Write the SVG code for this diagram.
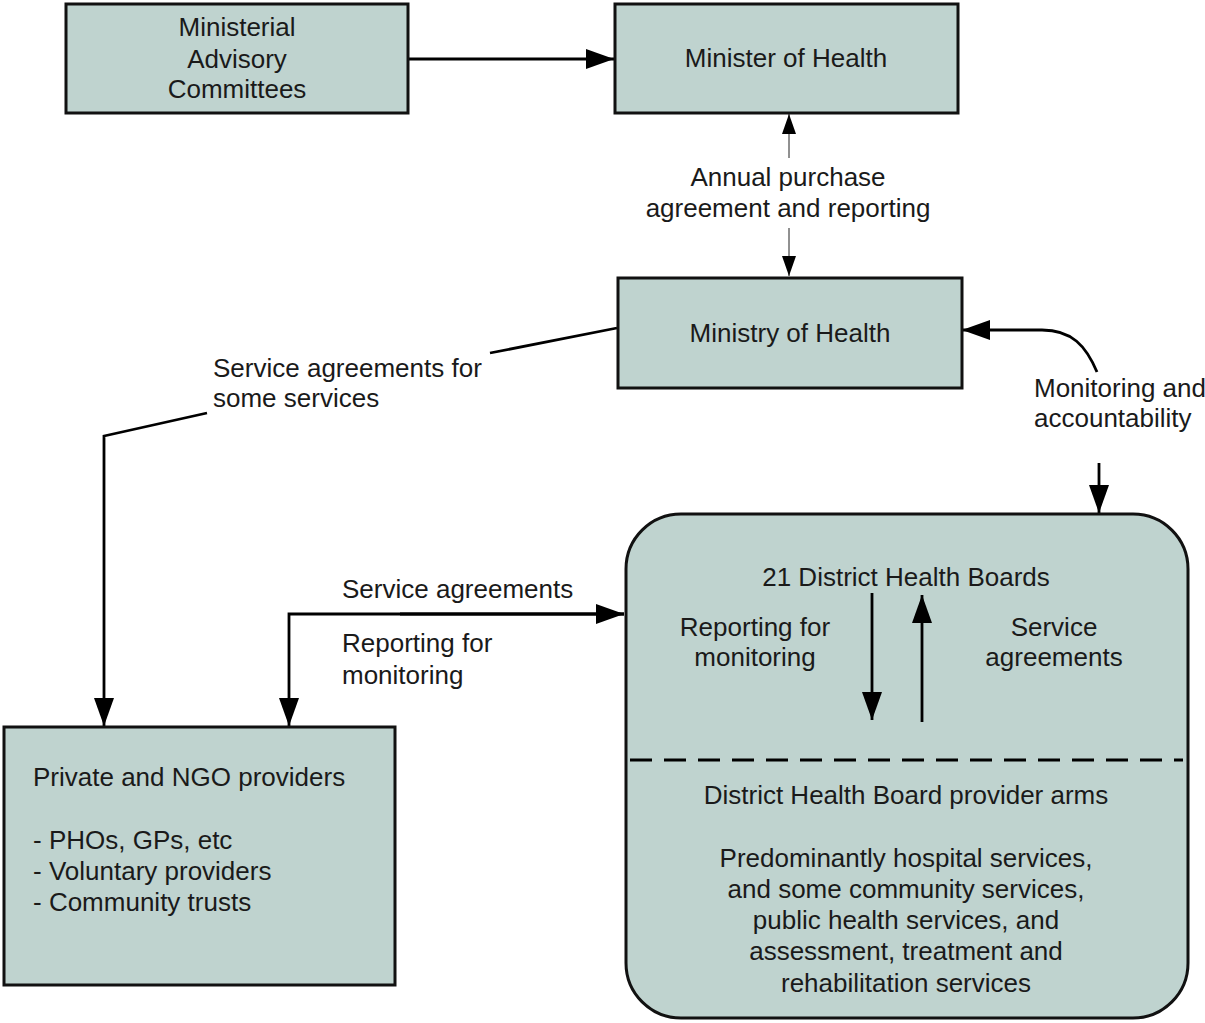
<svg xmlns="http://www.w3.org/2000/svg" width="1205" height="1023" viewBox="0 0 1205 1023">
<style>
.box{fill:#bfd3cf;stroke:#111;stroke-width:3}
.t{font-family:"Liberation Sans",Arial,sans-serif;font-size:26px;fill:#1a1a1a}
.c{text-anchor:middle}
.ln{fill:none;stroke:#000;stroke-width:2.8}
.thin{fill:none;stroke:#222;stroke-width:1}
</style>
<defs>
<marker id="ah" markerUnits="userSpaceOnUse" markerWidth="28" markerHeight="20" refX="28" refY="10" orient="auto"><path d="M0,0 L28,10 L0,20 z" fill="#000"/></marker>
<marker id="ahs" markerUnits="userSpaceOnUse" markerWidth="20" markerHeight="14" refX="20" refY="7" orient="auto"><path d="M0,0 L20,7 L0,14 z" fill="#000"/></marker>
</defs>
<rect width="1205" height="1023" fill="#fff"/>
<g id="connectors">
<path class="ln" d="M408,59 L614,59" marker-end="url(#ah)"/>
<path class="thin" d="M789,158 L789,114" marker-end="url(#ahs)"/>
<path class="thin" d="M789,228 L789,276" marker-end="url(#ahs)"/>
<path class="ln" d="M617,328 L490,353"/>
<path class="ln" d="M207,413 L104,436 L104,726" marker-end="url(#ah)"/>
<path class="ln" d="M624,614 L289,614 L289,726" marker-end="url(#ah)"/>
<path class="ln" d="M400,614 L624,614" marker-end="url(#ah)"/>
<path class="ln" d="M1097,372 C1086,346 1072,330 1042,330 L962,330" marker-end="url(#ah)"/>
<path class="ln" d="M1099,463 L1099,513" marker-end="url(#ah)"/>
</g>
<g id="n1"><rect class="box" x="66" y="4" width="342" height="109"/>
<text class="t c" x="237" y="36">Ministerial</text><text class="t c" x="237" y="68">Advisory</text><text class="t c" x="237" y="98">Committees</text></g>
<g id="n2"><rect class="box" x="615" y="4" width="343" height="109"/>
<text class="t c" x="786" y="67">Minister of Health</text></g>
<g id="n3"><rect class="box" x="618" y="278" width="344" height="110"/>
<text class="t c" x="790" y="342">Ministry of Health</text></g>
<g id="n4"><rect class="box" x="4" y="727" width="391" height="258"/>
<text class="t" x="33" y="786">Private and NGO providers</text>
<text class="t" x="33" y="849">- PHOs, GPs, etc</text>
<text class="t" x="33" y="880">- Voluntary providers</text>
<text class="t" x="33" y="911">- Community trusts</text></g>
<g id="n5"><rect class="box" x="626" y="514" width="562" height="504" rx="55" ry="55"/>
<path class="ln" d="M630,760 L1183,760" stroke-dasharray="22 12"/>
<path class="ln" d="M872,593 L872,720" marker-end="url(#ah)"/>
<path class="ln" d="M922,722 L922,595" marker-end="url(#ah)"/>
<text class="t c" x="906" y="586">21 District Health Boards</text>
<text class="t c" x="755" y="636">Reporting for</text><text class="t c" x="755" y="666">monitoring</text>
<text class="t c" x="1054" y="636">Service</text><text class="t c" x="1054" y="666">agreements</text>
<text class="t c" x="906" y="804">District Health Board provider arms</text>
<text class="t c" x="906" y="867">Predominantly hospital services,</text>
<text class="t c" x="906" y="898">and some community services,</text>
<text class="t c" x="906" y="929">public health services, and</text>
<text class="t c" x="906" y="960">assessment, treatment and</text>
<text class="t c" x="906" y="992">rehabilitation services</text></g>
<g id="labels">
<text class="t c" x="788" y="186">Annual purchase</text>
<text class="t c" x="788" y="217">agreement and reporting</text>
<text class="t" x="213" y="377">Service agreements for</text>
<text class="t" x="213" y="407">some services</text>
<text class="t" x="1034" y="397">Monitoring and</text>
<text class="t" x="1034" y="427">accountability</text>
<text class="t" x="342" y="598">Service agreements</text>
<text class="t" x="342" y="652">Reporting for</text>
<text class="t" x="342" y="684">monitoring</text>
</g>
</svg>
